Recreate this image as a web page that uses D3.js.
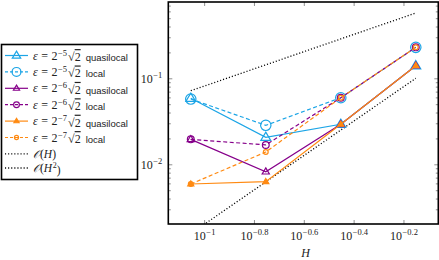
<!DOCTYPE html>
<html>
<head>
<meta charset="utf-8">
<script src="https://cdn.jsdelivr.net/npm/d3@7"></script>
<style>
  body { margin: 0; background: #fff; }
  svg { display: block; }
  .tick text { font-family: "Liberation Serif", serif; font-size: 12px; fill: #222; }
  .tick line { stroke: #444; stroke-width: 0.6; }
</style>
</head>
<body>
<div id="chart"></div>
<script>
// mesh sizes H
const H = [Math.SQRT2 / 16, Math.SQRT2 / 8, Math.SQRT2 / 4, Math.SQRT2 / 2];

// errors
const quasi5 = [0.0585, 0.0206, 0.0292, 0.140];
const local5 = [0.0574, 0.0284, 0.0594, 0.229];
const quasi6 = [0.0195, 0.0082, 0.0292, 0.140];
const local6 = [0.0195, 0.0168, 0.0594, 0.229];
const quasi7 = [0.0059, 0.00628, 0.0292, 0.140];
const local7 = [0.0059, 0.0139, 0.0594, 0.229];

// reference slopes
const refH1 = [0.0717, 0.1434, 0.287, 0.574];
const refH2 = [0.0015625, 0.00625, 0.025, 0.1];

// tick exponents
const xTickExp = [-1, -0.8, -0.6, -0.4, -0.2];
const yTickExp = [-1, -2];

const w = 439, h = 260;
const pLeft = 168.3, pRight = 438.3, pTop = 2, pBottom = 224;

const cyan = "#1ca5e6", purple = "#86008a", orange = "#ff8a12";

const series = [
  { k: 5, label: "quasilocal", y: quasi5, color: cyan, dash: null, marker: "tri", size: 5.2, fill: "none" },
  { k: 5, label: "local", y: local5, color: cyan, dash: "4,2.5", marker: "circ", size: 5.2, fill: "none" },
  { k: 6, label: "quasilocal", y: quasi6, color: purple, dash: null, marker: "tri", size: 3.8, fill: "none" },
  { k: 6, label: "local", y: local6, color: purple, dash: "4,2.5", marker: "circ", size: 3.4, fill: "none" },
  { k: 7, label: "quasilocal", y: quasi7, color: orange, dash: null, marker: "tri", size: 3.2, fill: orange },
  { k: 7, label: "local", y: local7, color: orange, dash: "4,2.5", marker: "circ", size: 2.4, fill: "none" }
];

const svg = d3.select("#chart").append("svg")
  .attr("width", w)
  .attr("height", h);

const x = d3.scaleLog()
  .domain([Math.pow(10, -1.1438), Math.pow(10, -0.0602)])
  .range([pLeft, pRight]);

const y = d3.scaleLog()
  .domain([Math.pow(10, -2.694), Math.pow(10, -0.113)])
  .range([pBottom, pTop]);

svg.append("clipPath").attr("id", "clip")
  .append("rect")
  .attr("x", pLeft).attr("y", pTop)
  .attr("width", pRight - pLeft).attr("height", pBottom - pTop);

function powLabel(sel, exp) {
  sel.text(null);
  sel.append("tspan").text("10");
  sel.append("tspan")
    .attr("dy", "-0.5em")
    .attr("dx", "0.5")
    .attr("font-size", "8.5px")
    .text(String(exp).replace("-", "\u2212"));
}

// x axis (bottom, labels) and top ticks
const xTicks = xTickExp.map(e => Math.pow(10, e));
const xAxis = svg.append("g")
  .attr("transform", `translate(0,${pBottom})`)
  .call(d3.axisBottom(x).tickValues(xTicks).tickSize(-4).tickPadding(7));
xAxis.select(".domain").remove();
xAxis.selectAll(".tick text").each(function(d, i) { powLabel(d3.select(this), xTickExp[i]); });

const xTop = svg.append("g")
  .attr("transform", `translate(0,${pTop})`)
  .call(d3.axisTop(x).tickValues(xTicks).tickSize(-4).tickFormat(""));
xTop.select(".domain").remove();

// y axis major + minor ticks on both sides
const yTicks = yTickExp.map(e => Math.pow(10, e));
const yMinor = [];
[-3, -2, -1].forEach(e => {
  for (let m = 2; m <= 9; m++) {
    const v = m * Math.pow(10, e);
    if (v >= y.domain()[0] && v <= y.domain()[1]) yMinor.push(v);
  }
});

const yAxis = svg.append("g")
  .attr("transform", `translate(${pLeft},0)`)
  .call(d3.axisLeft(y).tickValues(yTicks).tickSize(-4).tickPadding(6));
yAxis.select(".domain").remove();
yAxis.selectAll(".tick text").each(function(d, i) { powLabel(d3.select(this), yTickExp[i]); });

const yAxisMinor = svg.append("g")
  .attr("transform", `translate(${pLeft},0)`)
  .call(d3.axisLeft(y).tickValues(yMinor).tickSize(-2.5).tickFormat(""));
yAxisMinor.select(".domain").remove();

const yRight = svg.append("g")
  .attr("transform", `translate(${pRight},0)`)
  .call(d3.axisRight(y).tickValues(yTicks).tickSize(-4).tickFormat(""));
yRight.select(".domain").remove();
const yRightMinor = svg.append("g")
  .attr("transform", `translate(${pRight},0)`)
  .call(d3.axisRight(y).tickValues(yMinor).tickSize(-2.5).tickFormat(""));
yRightMinor.select(".domain").remove();

// x axis label
svg.append("text")
  .attr("x", 305.5)
  .attr("y", 257)
  .attr("text-anchor", "middle")
  .attr("font-family", "Liberation Serif, serif")
  .attr("font-style", "italic")
  .attr("font-size", "12px")
  .attr("fill", "#222")
  .text("H");

const plot = svg.append("g").attr("clip-path", "url(#clip)");

const line = d3.line()
  .x(d => x(d[0]))
  .y(d => y(d[1]));

// reference lines
[refH1, refH2].forEach(ref => {
  plot.append("path")
    .datum(H.map((hv, i) => [hv, ref[i]]))
    .attr("d", line)
    .attr("fill", "none")
    .attr("stroke", "#000")
    .attr("stroke-width", 1.3)
    .attr("stroke-dasharray", "1.1,2")
    .attr("stroke-linecap", "butt");
});

function drawMarker(g, s, cx, cy) {
  if (s.marker === "circ") {
    g.append("circle")
      .attr("cx", cx).attr("cy", cy).attr("r", s.size)
      .attr("fill", s.fill)
      .attr("stroke", s.color)
      .attr("stroke-width", 1.2);
  } else {
    const r = s.size;
    const pts = [[cx, cy - r], [cx + r * 0.95, cy + r * 0.6], [cx - r * 0.95, cy + r * 0.6]];
    g.append("path")
      .attr("d", "M" + pts.map(p => p.join(",")).join("L") + "Z")
      .attr("fill", s.fill)
      .attr("stroke", s.color)
      .attr("stroke-width", 1.2)
      .attr("stroke-linejoin", "miter");
  }
}

series.forEach(s => {
  const pts = H.map((hv, i) => [hv, s.y[i]]);
  plot.append("path")
    .datum(pts)
    .attr("d", line)
    .attr("fill", "none")
    .attr("stroke", s.color)
    .attr("stroke-width", 1.2)
    .attr("stroke-dasharray", s.dash);
  pts.forEach(p => drawMarker(plot, s, x(p[0]), y(p[1])));
});

// frame
svg.append("rect")
  .attr("x", pLeft).attr("y", pTop)
  .attr("width", pRight - pLeft).attr("height", pBottom - pTop)
  .attr("fill", "none")
  .attr("stroke", "#000")
  .attr("stroke-width", 1.6);

// legend
const legend = svg.append("g");
legend.append("rect")
  .attr("x", 1.5).attr("y", 44.5)
  .attr("width", 136).attr("height", 135)
  .attr("fill", "#fff")
  .attr("stroke", "#000")
  .attr("stroke-width", 1.6);

const rowY = [55.5, 71.9, 88.3, 104.7, 121.1, 137.5, 153.9, 168];

series.forEach((s, i) => {
  const yy = rowY[i];
  legend.append("line")
    .attr("x1", 5).attr("x2", 28).attr("y1", yy).attr("y2", yy)
    .attr("stroke", s.color).attr("stroke-width", 1.2)
    .attr("stroke-dasharray", s.dash ? "3,2" : null);
  drawMarker(legend, Object.assign({}, s, { size: s.size * 0.85 }), 16.5, yy);
  const t = legend.append("text")
    .attr("x", 33).attr("y", yy + 4)
    .attr("font-family", "Liberation Serif, serif")
    .attr("font-size", "12px")
    .attr("fill", "#222");
  t.append("tspan").attr("font-style", "italic").text("\u03b5");
  t.append("tspan").attr("dx", 3.5).text("=");
  t.append("tspan").attr("dx", 3.5).text("2");
  t.append("tspan").attr("dy", "-0.45em").attr("dx", 0.5).attr("font-size", "8.5px").text("\u2212" + s.k);
  t.append("tspan").attr("dy", "0.45em").attr("dx", 1).text("\u221a");
  t.append("tspan").style("text-decoration", "overline").text("2");
  t.append("tspan")
    .attr("dx", 5)
    .attr("font-family", "Liberation Sans, sans-serif")
    .attr("font-size", "9.5px")
    .text(s.label);
});

const refLabels = [["H", ""], ["H", "2"]];
refLabels.forEach((r, j) => {
  const yy = rowY[6 + j];
  legend.append("line")
    .attr("x1", 5).attr("x2", 28).attr("y1", yy).attr("y2", yy)
    .attr("stroke", "#000").attr("stroke-width", 1.3)
    .attr("stroke-dasharray", "1.1,2");
  const t = legend.append("text")
    .attr("x", 33).attr("y", yy + 4)
    .attr("font-family", "Liberation Serif, serif")
    .attr("font-size", "11.5px")
    .attr("fill", "#222");
  t.append("tspan").attr("font-style", "italic").text("\u{1D4AA}");
  t.append("tspan").text("(");
  t.append("tspan").attr("font-style", "italic").text(r[0]);
  if (r[1]) {
    t.append("tspan").attr("dy", "-0.45em").attr("dx", 0.5).attr("font-size", "8px").text(r[1]);
    t.append("tspan").attr("dy", "0.45em").text(")");
  } else {
    t.append("tspan").text(")");
  }
});
</script>
</body>
</html>
